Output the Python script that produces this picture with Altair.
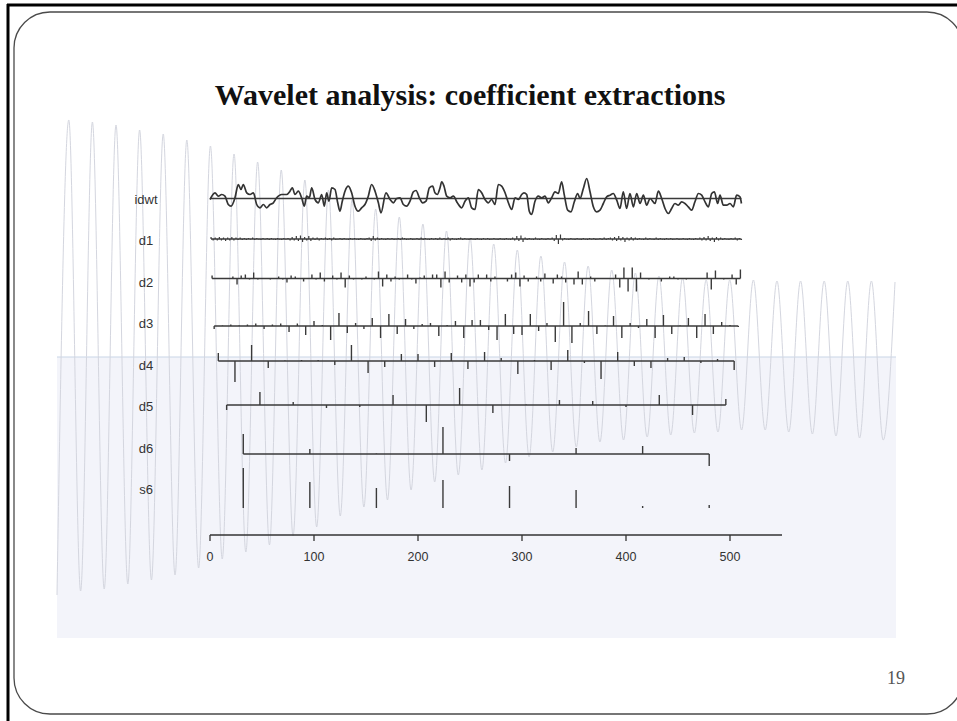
import altair as alt
import pandas as pd

# ---------------- data ----------------
TITLE = "Wavelet analysis: coefficient extractions"
PAGE = "19"
ROW_LABELS = ["idwt", "d1", "d2", "d3", "d4", "d5", "d6", "s6"]
AXIS_TICKS = [0, 100, 200, 300, 400, 500]
AXIS_EXTENT = [0, 550]

IDWT_POS = [0, 4.8, 8, 11.2, 14.4, 17.6, 20.2, 24, 27.2, 29.8, 32, 35.3, 38.5, 41.7, 44.9, 48, 51.3, 54.5,
            57.7, 60.9, 64.1, 68.9, 73.7, 76.9, 79.2, 81.7, 84.9, 88.1, 90.7, 92.9, 95.5, 97.8, 101, 104.2,
            107.4, 109.9, 112.2, 114.4, 117, 120.2, 122.8, 125, 127.2, 129.8, 133, 136.2, 139.4, 142.6,
            145.8, 149, 152.2, 155.4, 158.7, 161.9, 164.4,
            169.2, 173.1, 176.3, 179.5, 182.7, 185.9, 189.1, 192.3, 195.5, 198.1, 201.3, 204.5, 207.7,
            210.9, 214.1, 216.3, 218.6, 221.2, 222.8, 225, 227.6, 230.8, 234, 237.8, 242, 245.2, 248.4,
            251.6, 254.8, 258, 261.2, 264.4, 267.6, 270.8, 274, 277.2, 280.4, 283.7, 286.9, 290.1, 293.3,
            296.5, 299.7, 301.9, 304.5, 307, 309.3, 312.5, 315.7, 318.9, 322.1, 325.3, 328.5,
            331.7, 334.9, 338.1, 340.7, 343.9, 347.1, 350.3, 353.5, 355.8, 359, 362.2, 365.4, 368.6,
            371.8, 375, 378.2, 381.4, 384.6, 387.8, 391.1, 394.2, 397.4, 400.6, 403.8, 407.1, 410.3,
            413.5, 416.7, 419.9, 423.1, 427.9, 431.1, 434.3, 437.5, 440.7, 443.9, 447.1, 450.3, 453.5,
            456.7, 459.9, 463.1, 466.3, 469.6, 472.8, 476, 479.2, 482.4, 485, 488.1, 490.4, 493.6,
            496.8, 500, 503.2, 506.4, 509.6, 511]
IDWT_VAL = [-1, 5.7, 2.3, 4, 2.3, -6, -7.7, 0.7, 14, 9, 14, 5.7, 4, 5.7, -6, -9.3, -6, -9.3,
            -6, -4.3, 0.7, 4, 4, 7.3, 10.7, 4, 7.3, 0.7, -7.7, 2.3, 0.7, 10.7, -1, -4.3,
            4, -7.7, 5.7, -2.7, 10.7, 9, -4.3, -12.7, -2.7, 7.3, 12.3, 5.7, -7.7, -12.7,
            -9.3, -6, 2.3, 14, 7.3, -4.3, -14.3,
            5.7, -1, -4.3, 0, 0.7, -6, -7.7, -2.7, 6.7, 8, 0.7, -4.3, -2.7,
            10.7, 12.3, 5.7, 4, 10.7, 16.7, 12.3, 2.3, 0.7, 2.3, -4.3, -9.3, -2.7, 0.7,
            -9.3, -11, 9, 5.7, -1, -4.3, -1, -6, 14, 12.3, 5.7, -4.3, -11, 0.7,
            -1, 4, 5.7, 4, -12.7, -16, -2.7, 2.3, 0.7, 2.3, -4.3, 0.7,
            6.7, 5, 16.7, 3.3, -11.7, -13.3, -3.3, 5, 0, 10, 20, 6.7, -8.3,
            -13.3, -11.7, -5, 1.7, 3.3, 5, -1.7, -10, 6.7, -10, 5, -8.3, 5,
            -5, 3.3, -6.7, 0, -5, 7.3, 0, -10, -15, -10, -5, -6.7, -3.3,
            -5, -8.3, -11.7, -3.3, 5, 3.3, -3.3, -8.3, 5, 6.7, -5, 3.3, -6.7,
            -6.7, -5, -8.3, 3.3, 1.7, -5]

D1 = [2, -1.5, 1.5, -1.5, 2, -1.5, 1.5, -2, 1.5, -1.5, 2, -1.5, 1.5, -1, 1.5, -1,
      1, -1, 1, -0.5, 1.5, -1, 1, -0.5, -1, 1, -0.5, 1, -1, 1, -0.5, -1,
      1, -0.5, -1, 1, -0.5, 1, -1.5, 2, -1.5, 3, -2, 3.5, -3, 2, -1.5, 3,
      -2, 1.5, -1, 1.5, -1.5, 1, -0.5, 1.5, -1, 1, -1.5, 1.5, -1, -0.5, 1, -1,
      1, -0.5, -1, 1, -0.5, 1, -0.5, -1, 1, -0.5, -1, 1, 1.5, -2, 3, -1.5,
      1.5, -1, 1, -0.5, -1, 1, -0.5, 1, -1, -0.5, 1, -1, 1.5, 1, -1, -0.5,
      1, -1, -0.5, 1, -1, 1.5, -1, 1, -0.5, -1, 1, -0.5, 1, -1, 1.5, -1,
      1, -1, 1.5, -1.5, 1, -0.5, -1, 1, 1.5, -1, 1, -0.5, -1, 1, -0.5, -1,
      1, -0.5, -1, 1, -0.5, 1, -1, -0.5, 1, -0.5, -1, 1, -0.5, -1, 1, -0.5,
      -1, 1.5, -1.5, 3, -2, 3.5, -3, 1.5, -1, 1, -0.5, -1, 1.5, -0.5, -1, 1,
      -0.5, -1, 1, -0.5, 1.5, -2, 4, -5, 4.5, -1.5, 1, -0.5, -1, 1, -0.5, -1,
      1, -0.5, -1, 1, -0.5, -1, 1, -0.5, 1, -1, -0.5, 1, -1, 1.5, -1, 1,
      1.5, -1.5, 2, -2, 3, -1.5, 2, -3, 1.5, -1.5, 2, -1.5, 1.5, -1, 1, -0.5,
      -1, 1.5, -1, 1, -0.5, -1, 1.5, -1, 1, -0.5, -1, 1, -0.5, 1, -1, -0.5,
      1, -1, -0.5, 1, -0.5, -1, 1, -0.5, -1, 1, -0.5, 1.5, -1.5, 2, -1.5, 3,
      -2, 1.5, -3, 2, -1.5, 1.5, -1, 1, -0.5, -1, 1, -0.5, 1.5, -1.5, 1, -1]

D2 = [3, 0.5, 0.5, -0.5, 0.5, 2, -6, 3, 4, -1, 6, -1, 0.5, 0.5, -1, 0.5, 2, -1, -4, 3,
      2, 0.5, -3, 0.5, 4, -1, 6, -3, 0.5, 3, -1, 6, -9, 3, -1, 0.5, -1, 2, 0.5, -1, 7, -8,
      4, -3, 2, -1, 0.5, 4, -1, -5, 1, 3, 0.5, 4, 4, -9, 7, -4, 0.5, 3, -4, 4,
      -8, -4, 4, 0.5, 4, -3, 2, 0.5, -0.5, -3, 4, 6, -8, 3, -3, 0.5, 2, -3, 5, 0.5, -5, 4,
      2, -4, 0.5, -6, 7, -6, 0.5, 2, -3, 0.5, -0.5, 0.5, 0.5, 4, -9, 11, -13, 11, -13, 6,
      0.5, -1, 0.5, 0.5, -3, 0.5, 2, 2, -1, 0.5, -1, 0.5, 0.5, -0.5, 0.5, 6, -11, 8, 0.5, -1,
      0.5, 4, -6, 9]

D3 = [-3, 0.5, 1.5, 0.5, 1.5, 2.5, -3, 1.5, 2.5, -6, 2.5, -9, 5, 1, -14, 13, -7, 3, -3, 8,
      -12, 12, -8, 7, -3, 2, 3, -10, 1, 5, -12, 6, 6, -4, -14, 12, -8, -9, 12, -5,
      3, -16, 24, -17, 3, 15, -8, 0.5, 10, -12, 3, -2, 7, -12, 11, -8, 0.5, 8, -12, 12,
      -8, 4, 1, -1]

D4 = [8, -21, 16, -7, 0.5, 1, 1, -4, 16, -12, -6, 7, 7, -6, 8, -8,
      9, 3, -13, 1, -9, 11, -2, -18, 9, -5, -7, 3, 4, -2, 2, -9]

D5 = [-5, 13, 3, -3, -2, 10, -17, 17, -8, 0.5, 5, 4, -2, 10, -10, 6]
D6 = [20, 5, 0.5, 27, -7, 6, 8, -12]
S6 = [40, 26, 20, 28, 22, 18, 2, 3]

# background sine of the slide picture: alternating trough / peak heights
WAVE_TROUGHS = [43, 47, 49, 54, 58, 63, 70, 79, 86, 93, 102, 111, 122, 131, 138, 148, 156, 163,
                168, 175, 181, 186, 191, 196, 198, 201, 203, 205, 206, 208, 208, 206, 204, 202, 200, 198]
WAVE_PEAKS = [518, 516, 513, 508, 504, 498, 492, 484, 476, 468, 458, 448, 438, 429, 421, 414, 407, 400,
              394, 388, 382, 376, 372, 368, 365, 362, 360, 358, 358, 358, 357, 357, 357, 357, 357, 356]

# ---------------- layout ----------------
W, H = 957, 721
XSC = alt.Scale(domain=[0, 550], range=[210, 782])
ROW_BASE = {"idwt": 198.5, "d1": 239, "d2": 278.5, "d3": 326, "d4": 361,
            "d5": 405, "d6": 454, "s6": 508}
AXIS_Y = 535
INK = "#3a3a3a"
ONE = pd.DataFrame({"a": [0]})


def yscale(base):
    return alt.Scale(domain=[-50, 50], range=[base + 50, base - 50])


def coef_df(vals, level):
    half = 2 ** (level - 1)
    pos = [half * (2 * i + 1) for i in range(len(vals))]
    return pd.DataFrame({"pos": pos, "val": vals, "zero": [0.0] * len(vals)})


def spikes(df, base, width=1.4):
    return alt.Chart(df).mark_rule(color=INK, strokeWidth=width).encode(
        x=alt.X("pos:Q", scale=XSC, axis=None),
        y=alt.Y("zero:Q", scale=yscale(base), axis=None),
        y2="val:Q",
    )


def baseline(df, base):
    return alt.Chart(df).transform_aggregate(
        lo="min(pos)", hi="max(pos)"
    ).transform_calculate(zero="0").mark_rule(color=INK, strokeWidth=1.3).encode(
        x=alt.X("lo:Q", scale=XSC, axis=None),
        x2="hi:Q",
        y=alt.Y("zero:Q", scale=yscale(base), axis=None),
    )


layers = []

# slide picture background
layers.append(alt.Chart(ONE).mark_rect(color="#f3f4fa").encode(
    x=alt.value(57), x2=alt.value(896), y=alt.value(357), y2=alt.value(638)))
layers.append(alt.Chart(ONE).mark_rule(color="#c9d5e6", strokeWidth=1).encode(
    x=alt.value(57), x2=alt.value(896), y=alt.value(357)))

wave_k, wave_level = [], []
for i in range(len(WAVE_TROUGHS)):
    wave_k += [2 * i, 2 * i + 1]
    wave_level += [WAVE_TROUGHS[i], WAVE_PEAKS[i]]
wave_df = pd.DataFrame({"k": wave_k, "level": wave_level})
layers.append(alt.Chart(wave_df).mark_line(color="#d4d6df", strokeWidth=1, interpolate="monotone").encode(
    x=alt.X("k:Q", scale=alt.Scale(domain=[0, 71], range=[57, 895]), axis=None),
    y=alt.Y("level:Q", scale=alt.Scale(domain=[0, 520], range=[638, 118]), axis=None),
))

# slide frame
layers.append(alt.Chart(ONE).mark_rect(filled=False, color="#4a4a4a", strokeWidth=1.3, cornerRadius=36).encode(
    x=alt.value(14), x2=alt.value(963), y=alt.value(12), y2=alt.value(714)))
layers.append(alt.Chart(ONE).mark_rule(color="#000000", strokeWidth=3).encode(
    x=alt.value(7), x2=alt.value(957), y=alt.value(5)))
layers.append(alt.Chart(ONE).mark_rule(color="#000000", strokeWidth=3).encode(
    x=alt.value(8), y=alt.value(4), y2=alt.value(721)))

# idwt
idwt_df = pd.DataFrame({"pos": IDWT_POS, "val": IDWT_VAL})
layers.append(baseline(idwt_df, ROW_BASE["idwt"]))
layers.append(alt.Chart(idwt_df).mark_line(color="#333333", strokeWidth=1.7, interpolate="monotone").encode(
    x=alt.X("pos:Q", scale=XSC, axis=None),
    y=alt.Y("val:Q", scale=yscale(ROW_BASE["idwt"]), axis=None),
))

# detail levels
for name, vals, lev in [("d1", D1, 1), ("d2", D2, 2), ("d3", D3, 3), ("d4", D4, 4),
                        ("d5", D5, 5), ("d6", D6, 6)]:
    df = coef_df(vals, lev)
    layers.append(baseline(df, ROW_BASE[name]))
    layers.append(spikes(df, ROW_BASE[name], 1.2 if lev == 1 else 1.4))

# smooth level
layers.append(spikes(coef_df(S6, 6), ROW_BASE["s6"]))

# row labels
lab_df = pd.DataFrame({"label": ROW_LABELS, "slot": list(range(len(ROW_LABELS)))})
layers.append(alt.Chart(lab_df).mark_text(font="Liberation Sans", fontSize=13, color="#333333",
                                          align="center", baseline="middle").encode(
    x=alt.value(146),
    y=alt.Y("slot:Q", scale=alt.Scale(domain=[0, 7], range=[200, 490]), axis=None),
    text="label:N",
))

# x axis (line, ticks, labels) drawn through the shared x scale
axis_line_df = pd.DataFrame({"lo": [AXIS_EXTENT[0]], "hi": [AXIS_EXTENT[1]]})
layers.append(alt.Chart(axis_line_df).mark_rule(color="#333333", strokeWidth=1.3).encode(
    x=alt.X("lo:Q", scale=XSC, axis=None), x2="hi:Q", y=alt.value(AXIS_Y)))
tick_df = pd.DataFrame({"t": AXIS_TICKS, "lab": [str(v) for v in AXIS_TICKS]})
layers.append(alt.Chart(tick_df).mark_rule(color="#333333", strokeWidth=1.3).encode(
    x=alt.X("t:Q", scale=XSC, axis=None), y=alt.value(AXIS_Y), y2=alt.value(AXIS_Y + 6)))
layers.append(alt.Chart(tick_df).mark_text(font="Liberation Sans", fontSize=12.5, color="#333333",
                                           align="center", baseline="middle").encode(
    x=alt.X("t:Q", scale=XSC, axis=None), y=alt.value(AXIS_Y + 22), text="lab:N"))

# title and page number
layers.append(alt.Chart(pd.DataFrame({"t": [TITLE]})).mark_text(
    font="Liberation Serif", fontSize=30, fontWeight="bold", color="#111111",
    align="center", baseline="alphabetic").encode(
    x=alt.value(470), y=alt.value(105), text="t:N"))
layers.append(alt.Chart(pd.DataFrame({"t": [PAGE]})).mark_text(
    font="Liberation Serif", fontSize=18, color="#555555",
    align="center", baseline="alphabetic").encode(
    x=alt.value(896), y=alt.value(684), text="t:N"))

chart = alt.layer(*layers).resolve_scale(x="independent", y="independent").properties(
    width=W, height=H, autosize=alt.AutoSizeParams(type="none"), padding=0,
    background="#ffffff",
).configure_view(stroke=None)

chart.save("out.html", embed_options={"renderer": "svg", "actions": False})
